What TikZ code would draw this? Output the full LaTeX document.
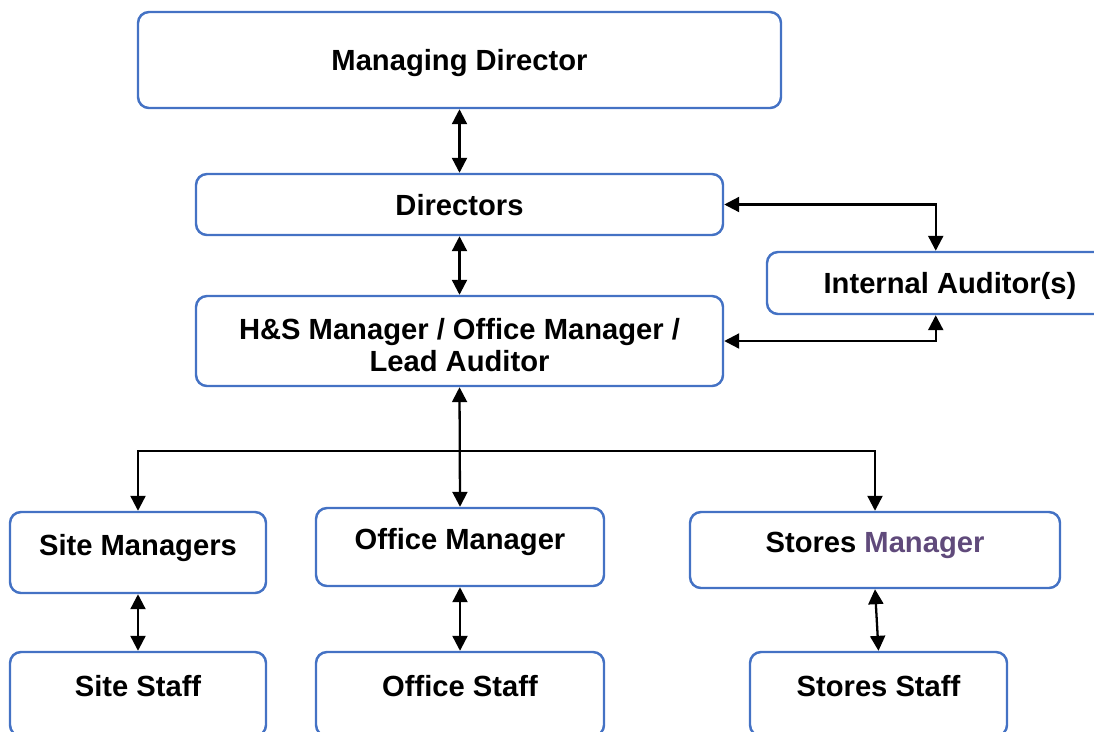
\documentclass[tikz,border=0pt]{standalone}
\usepackage{fontspec}
\setmainfont{Liberation Sans}
\usepackage{tikz}
\usetikzlibrary{arrows.meta, calc}
\usepackage{xcolor}
\definecolor{boxblue}{RGB}{68, 114, 196}
\definecolor{mgrpurple}{RGB}{96, 74, 123}

\begin{document}
\begin{tikzpicture}[x=0.02cm, y=-0.02cm, >={Triangle[length=8.5pt, width=8.5pt]},
  box/.style 2 args={draw=boxblue, line width=1.4pt, rounded corners=0.22cm,
    minimum width=#1*0.02cm, minimum height=#2*0.02cm, inner sep=0pt,
    align=center, font=\fontsize{16.6}{18.2}\selectfont\bfseries},
  single/.style={text height=12pt, text depth=0pt},
  upper/.style={text height=12pt, text depth=9pt},
  link/.style={line width=1.3pt}]
  \useasboundingbox (0, 0) rectangle (1094, 731);
  \clip (0, 0) rectangle (1094, 731);

  % Top of the chart
  \node[box={643}{96}, single] (md) at (459.5, 60) {Managing Director};
  \node[box={527}{61}, single] (dir) at (459.5, 204.5) {Directors};
  \node[box={527}{90}] (hs) at (459.5, 341) {\rule{0pt}{17pt}H\&S Manager / Office Manager /\\ Lead Auditor};

  % Auditor box (runs off the right edge)
  \node[box={366}{62}, single] (ia) at (950, 283) {Internal Auditor(s)};
  \coordinate (iain) at ([xshift=3.4cm]ia.north west);
  \coordinate (iaout) at ([xshift=3.4cm]ia.south west);

  % Managers row
  \node[box={256}{81}, upper] (sm) at (138, 552.5) {Site Managers};
  \node[box={288}{78}, upper] (om) at (460, 547) {Office Manager};
  \node[box={370}{76}, upper] (stm) at (875, 550) {Stores \textcolor{mgrpurple}{Manager}};

  % Staff row (runs off the bottom edge)
  \node[box={256}{84}, upper] (ss) at (138, 694) {Site Staff};
  \node[box={288}{84}, upper] (os) at (460, 694) {Office Staff};
  \node[box={257}{84}, upper] (sts) at (878.5, 694) {Stores Staff};

  % Links down the middle
  \draw[link, <->] (md.south) -- (dir.north);
  \draw[link, <->] (dir.south) -- (hs.north);
  \draw[link, <->] (hs.south) -- (om.north);

  % Links to the auditor
  \draw[link, <->] (dir.east) -| (iain);
  \draw[link, <->] (hs.east) -| (iaout);

  % Branch to the side managers
  \coordinate (split) at ($(hs.south)+(0, 64)$);
  \draw[link, ->] (split) -| (sm.north);
  \draw[link, ->] (split) -| (stm.north);

  % Managers to staff
  \draw[link, <->] (sm.south) -- (ss.north);
  \draw[link, <->] (om.south) -- (os.north);
  \draw[link, <->] (stm.south) -- (sts.north);
\end{tikzpicture}
\end{document}
